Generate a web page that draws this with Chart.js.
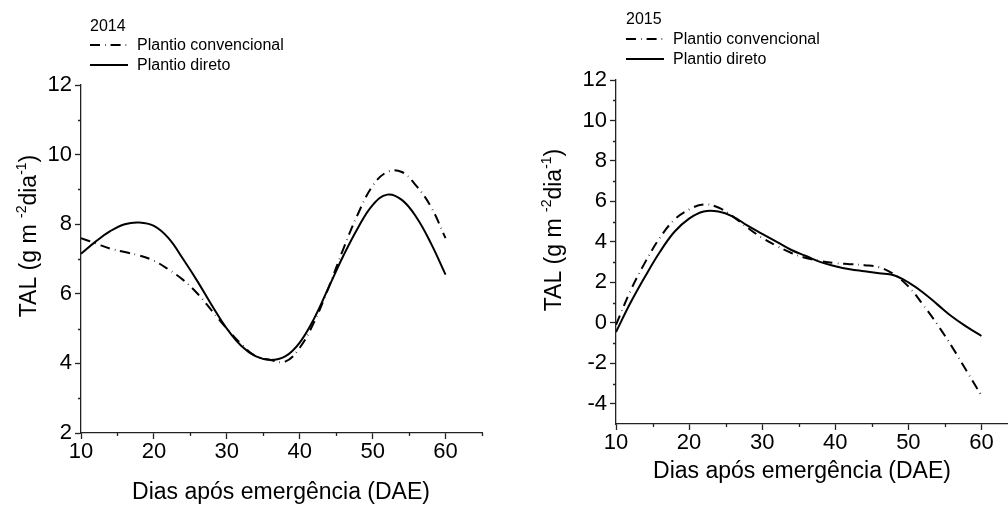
<!DOCTYPE html>
<html>
<head>
<meta charset="utf-8">
<script src="https://cdn.jsdelivr.net/npm/chart.js@4.4.1/dist/chart.umd.min.js"></script>
<style>
  html, body { margin: 0; padding: 0; background: #fff; overflow: hidden; width: 1008px; height: 505px; }
  #wrap { position: relative; width: 1008px; height: 505px; overflow: hidden; }
  canvas { position: absolute; top: 0; }
  .leg { position: absolute; font-family: Arial, "Liberation Sans", sans-serif; font-size: 16px; color: #000; line-height: 20px; white-space: nowrap; }
  .leg .row { display: flex; align-items: center; height: 20px; }
  .leg svg { margin-right: 9px; }
</style>
</head>
<body>
<div id="wrap">
  <canvas id="chart-2014" width="520" height="505" style="left:0"></canvas>
  <canvas id="chart-2015" width="500" height="505" style="left:530px"></canvas>

  <div class="leg" style="left:90px; top:16px">2014</div>
  <div class="leg" style="left:90px; top:35px">
    <div class="row"><svg width="38" height="4"><line x1="0" y1="2" x2="38" y2="2" stroke="#000" stroke-width="2" stroke-dasharray="10 5 0.6 5"/></svg>Plantio convencional</div>
    <div class="row"><svg width="38" height="4"><line x1="0" y1="2" x2="38" y2="2" stroke="#000" stroke-width="2"/></svg>Plantio direto</div>
  </div>

  <div class="leg" style="left:626px; top:9px">2015</div>
  <div class="leg" style="left:626px; top:29px">
    <div class="row"><svg width="38" height="4"><line x1="0" y1="2" x2="38" y2="2" stroke="#000" stroke-width="2" stroke-dasharray="10 5 0.6 5"/></svg>Plantio convencional</div>
    <div class="row"><svg width="38" height="4"><line x1="0" y1="2" x2="38" y2="2" stroke="#000" stroke-width="2"/></svg>Plantio direto</div>
  </div>
</div>

<script>
// TAL over days after emergence, two seasons

const DAE = [10, 12, 14, 16, 18, 20, 22, 24, 26, 28, 30, 32, 34, 36, 38, 40, 42, 44, 46, 48, 50, 52, 54, 56, 58, 60];

const CONV_2014 = [7.6, 7.45, 7.3, 7.2, 7.1, 6.95, 6.7, 6.4, 6.0, 5.5, 5.0, 4.55, 4.2, 4.1, 4.05, 4.45, 5.2, 6.2, 7.3, 8.3, 9.1, 9.5, 9.5, 9.1, 8.5, 7.6];
const DIRETO_2014 = [7.15, 7.5, 7.8, 8.0, 8.05, 7.95, 7.6, 7.0, 6.35, 5.65, 5.0, 4.5, 4.2, 4.1, 4.2, 4.6, 5.3, 6.2, 7.1, 7.9, 8.55, 8.85, 8.7, 8.2, 7.45, 6.55];

const CONV_2015 = [-0.1, 1.6, 3.0, 4.2, 5.1, 5.6, 5.85, 5.7, 5.25, 4.7, 4.2, 3.8, 3.45, 3.2, 3.05, 2.95, 2.9, 2.85, 2.75, 2.4, 1.8, 0.9, -0.1, -1.2, -2.4, -3.6];
const DIRETO_2015 = [-0.45, 1.0, 2.3, 3.5, 4.5, 5.15, 5.5, 5.5, 5.25, 4.8, 4.4, 4.0, 3.6, 3.3, 3.0, 2.8, 2.65, 2.55, 2.45, 2.35, 2.0, 1.5, 0.9, 0.3, -0.2, -0.65];

const X_TICKS = [10, 20, 30, 40, 50, 60];
const Y_TICKS_2014 = [2, 4, 6, 8, 10, 12];
const Y_TICKS_2015 = [-4, -2, 0, 2, 4, 6, 8, 10, 12];

const LABELS = ["Plantio convencional", "Plantio direto"];
const X_TITLE = "Dias após emergência (DAE)";
const Y_TITLE = [["TAL (g m ", false], ["-2", true], ["dia", false], ["-1", true], [")", false]];

const FONT = 'Arial, "Liberation Sans", sans-serif';
const AXIS_COLOR = "#222";

function toPoints(values) {
  return DAE.map((d, i) => ({ x: d, y: values[i] }));
}

/**
 * Minor ticks + axis titles, drawn after the chart.
 */
const decorPlugin = {
  id: "decor",
  afterDraw(chart, args, opts) {
    const ctx = chart.ctx;
    const xs = chart.scales.x;
    const ys = chart.scales.y;
    ctx.save();
    ctx.strokeStyle = AXIS_COLOR;
    ctx.lineWidth = 1.3;
    ctx.beginPath();
    opts.xMinor.forEach(v => {
      const px = Math.round(xs.getPixelForValue(v)) + 0.5;
      ctx.moveTo(px, xs.top);
      ctx.lineTo(px, xs.top + 3);
    });
    opts.yMinor.forEach(v => {
      const py = Math.round(ys.getPixelForValue(v)) + 0.5;
      ctx.moveTo(ys.right, py);
      ctx.lineTo(ys.right - 3, py);
    });
    ctx.stroke();

    // x title
    ctx.fillStyle = "#000";
    ctx.font = "23px " + FONT;
    ctx.textAlign = "center";
    ctx.textBaseline = "middle";
    ctx.fillText(X_TITLE, opts.xTitleX, opts.xTitleY);

    // y title with superscripts, rotated
    const big = "23px " + FONT, small = "14px " + FONT;
    let total = 0;
    Y_TITLE.forEach(([t, sup]) => { ctx.font = sup ? small : big; total += ctx.measureText(t).width; });
    ctx.translate(opts.yTitleX, opts.yTitleY);
    ctx.rotate(-Math.PI / 2);
    ctx.textAlign = "left";
    ctx.textBaseline = "alphabetic";
    let x = -total / 2;
    Y_TITLE.forEach(([t, sup]) => {
      ctx.font = sup ? small : big;
      ctx.fillText(t, x, sup ? -10 : 0);
      x += ctx.measureText(t).width;
    });
    ctx.restore();
  }
};

function makeChart(id, conv, direto, cfg) {
  const ctx = document.getElementById(id).getContext("2d");
  return new Chart(ctx, {
    type: "line",
    data: {
      datasets: [
        {
          label: LABELS[0],
          data: toPoints(conv),
          borderColor: "#000",
          borderWidth: 2,
          borderDash: [10, 5, 0.6, 5],
          pointRadius: 0,
          tension: 0.4,
          fill: false
        },
        {
          label: LABELS[1],
          data: toPoints(direto),
          borderColor: "#000",
          borderWidth: 2,
          pointRadius: 0,
          tension: 0.4,
          fill: false
        }
      ]
    },
    options: {
      responsive: false,
      animation: false,
      layout: { padding: cfg.padding },
      plugins: {
        legend: { display: false },
        tooltip: { enabled: false },
        decor: cfg.decor
      },
      scales: {
        x: {
          type: "linear",
          min: 10,
          max: 65,
          border: { display: true, color: AXIS_COLOR, width: 1.3 },
          grid: { drawOnChartArea: false, drawTicks: true, tickLength: 6, tickColor: AXIS_COLOR, tickWidth: 1.3 },
          ticks: { color: "#000", font: { family: FONT, size: 22 }, padding: 0, maxRotation: 0, autoSkip: false },
          afterBuildTicks: s => { s.ticks = X_TICKS.map(v => ({ value: v })); },
          afterFit: s => { s.height = cfg.xHeight; }
        },
        y: {
          min: cfg.yMin,
          max: cfg.yMax,
          border: { display: true, color: AXIS_COLOR, width: 1.3 },
          grid: { drawOnChartArea: false, drawTicks: true, tickLength: 6, tickColor: AXIS_COLOR, tickWidth: 1.3 },
          ticks: { color: "#000", font: { family: FONT, size: 22 }, padding: 3, autoSkip: false },
          afterBuildTicks: s => { s.ticks = cfg.yTicks.map(v => ({ value: v })); },
          afterFit: s => { s.width = cfg.yWidth; }
        }
      }
    },
    plugins: [decorPlugin]
  });
}

makeChart("chart-2014", CONV_2014, DIRETO_2014, {
  padding: { left: 0, top: 85, right: 38, bottom: 0 },
  xHeight: 72,
  yWidth: 81,
  yMin: 2,
  yMax: 12,
  yTicks: Y_TICKS_2014,
  decor: {
    xMinor: [15, 25, 35, 45, 55, 65],
    yMinor: [3, 5, 7, 9, 11],
    xTitleX: 281, xTitleY: 493,
    yTitleX: 36, yTitleY: 236
  }
});

makeChart("chart-2015", CONV_2015, DIRETO_2015, {
  padding: { left: 0, top: 80, right: 12, bottom: 0 },
  xHeight: 81,
  yWidth: 86,
  yMin: -5,
  yMax: 12,
  yTicks: Y_TICKS_2015,
  decor: {
    xMinor: [15, 25, 35, 45, 55, 65],
    yMinor: [-3, -1, 1, 3, 5, 7, 9, 11],
    xTitleX: 272, xTitleY: 472,
    yTitleX: 31, yTitleY: 230
  }
});
</script>
</body>
</html>
